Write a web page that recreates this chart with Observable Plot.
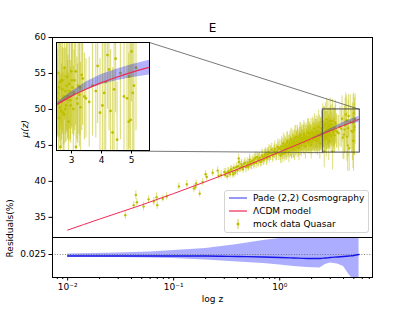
<!DOCTYPE html>
<html><head><meta charset="utf-8">
<script src="https://cdn.jsdelivr.net/npm/d3@7"></script>
<script src="https://cdn.jsdelivr.net/npm/@observablehq/plot@0.6"></script>
<style>
body{margin:0;background:#fff;font-family:"DejaVu Sans",sans-serif;}
#c{position:relative;width:414px;height:311px;overflow:hidden;background:#fff;}
#c > svg {position:absolute;}
.leg{position:absolute;left:224px;top:190px;width:143px;height:41px;border:1px solid #d4d4d4;border-radius:3px;background:rgba(255,255,255,0.85);font-size:9px;color:#000;}
.leg .row{position:absolute;left:0;height:12px;line-height:12px;}
.leg .row span{position:absolute;left:28px;white-space:nowrap;}
.leg .row svg{position:absolute;left:3px;top:0;}
</style></head><body><div id="c"></div>
<script>
// ---- data ----
const quasarZ = [0.035,0.042,0.044,0.045,0.052,0.058,0.065,0.069,0.070,0.079,0.086,0.112,0.133,0.155,0.160,0.163,0.176,0.188,0.200,0.205,0.233,0.260,0.265,0.280,0.300,
0.31,0.32,0.33,0.34,0.35,0.36,0.37,0.38,0.39,0.40,0.41,0.415,0.42,0.44,0.45,0.46,0.48,0.50,0.51,0.52,0.54,0.55,0.57,0.58,0.60,0.61,0.63,0.65,0.66,0.68,0.70,0.72,0.74,0.75,0.77,0.79,0.80,0.82,0.84,0.86,0.88,0.90,0.92,0.94,0.96,0.98,
1.00,1.02,1.04,1.06,1.08,1.10,1.12,1.14,1.16,1.18,1.20,1.22,1.24,1.26,1.28,1.30,1.32,1.34,1.36,1.38,1.40,1.42,1.44,1.46,1.48,1.50,1.52,1.54,1.56,1.58,1.60,1.62,1.65,1.68,1.70,1.72,1.75,1.78,1.80,1.83,1.86,1.88,1.90,1.93,1.96,1.98,2.00,2.03,2.06,2.09,2.12,2.15,2.18,2.21,2.24,2.27,2.30,2.33,2.36,2.39,2.42,2.45,2.48,
2.52,2.55,2.57,2.59,2.61,2.63,2.65,2.67,2.70,2.72,2.75,2.77,2.80,2.82,2.85,2.88,2.90,2.93,2.96,2.99,3.03,3.06,3.10,3.14,3.15,3.18,3.22,3.26,3.30,3.34,3.37,3.43,3.48,3.59,3.70,3.81,3.87,3.95,4.03,4.09,4.14,4.20,4.25,4.30,4.37,4.42,4.47,4.52,4.63,4.75,4.85,4.91,4.92,4.97,5.00,5.04,5.08,5.15,
0.305,0.325,0.345,0.365,0.385,0.405,0.425,0.435,0.455,0.47,0.49,0.505,0.525,0.535,0.56,0.575,0.59,0.62,0.64,0.67,0.69,0.71,0.73,0.76,0.78,0.81,0.85,0.89,0.93,0.97,
1.01,1.03,1.05,1.07,1.09,1.11,1.13,1.15,1.17,1.19,1.21,1.23,1.25,1.27,1.29,1.31,1.33,1.35,1.37,1.39,1.41,1.43,1.45,1.47,1.49,1.51,1.53,1.55,1.57,1.59,1.61,1.64,1.67,1.69,1.71,1.74,1.77,1.79,1.82,1.85,1.87,1.89,1.92,1.95,1.97,2.01,2.04,2.07,2.10,2.13,2.16,2.19,2.22,2.25,2.28,2.31,2.34,2.37,2.40,2.44,
2.53,2.58,2.62,2.66,2.69,2.74,2.79,2.84,2.87,2.92,2.97,3.01,3.08,3.20,3.28];
const quasarMu = [35.3,36.7,38.1,37.1,36.5,37.5,37.2,37.8,36.7,37.6,37.9,39.3,39.6,39.0,39.2,39.7,38.3,39.9,41.0,40.6,41.2,41.5,40.8,40.9,41.3,
41.2,40.7,41.4,41.0,41.7,41.3,41.9,41.2,42.0,41.5,43.2,42.7,41.8,42.1,41.7,42.4,42.0,42.6,42.2,43.0,42.3,42.8,42.5,43.1,42.6,43.4,42.9,43.3,42.7,43.6,43.0,43.5,43.9,43.2,43.7,44.1,43.4,43.9,44.4,43.6,44.0,44.5,43.8,44.2,44.8,43.9,
44.6,43.6,44.9,44.2,45.3,43.9,44.6,45.0,44.3,45.6,44.7,44.1,45.2,44.8,45.9,44.5,45.3,44.9,45.7,44.4,45.1,46.2,45.4,44.7,45.8,45.2,44.6,46.0,45.5,46.5,45.0,45.7,46.1,45.3,46.4,45.8,44.9,46.2,45.6,46.8,45.4,46.0,46.6,45.7,46.3,45.1,46.0,46.9,45.8,46.4,47.3,45.9,46.6,46.1,47.0,45.6,46.5,47.6,46.2,45.3,46.8,46.3,47.4,
46.9,48.3,45.8,47.5,46.4,44.2,47.9,46.7,47.9,46.1,46.0,48.6,47.3,46.5,48.1,47.0,45.6,47.7,46.8,48.4,47.5,46.3,47.9,48.4,44.2,46.9,47.6,47.1,46.4,48.2,48.0,47.0,46.9,46.7,47.6,47.3,48.7,46.1,46.5,47.2,47.8,49.3,48.5,46.2,45.0,47.4,49.1,44.6,48.3,47.0,46.9,45.6,48.1,45.7,49.5,47.2,47.6,48.6,
40.9,41.3,41.6,41.0,41.5,42.1,41.9,42.4,42.0,42.6,42.3,42.0,42.7,42.4,42.9,42.6,43.3,43.0,43.2,42.9,43.4,43.1,43.7,43.4,43.8,44.0,43.8,44.2,44.0,44.5,
44.0,44.5,43.8,44.8,44.4,45.0,44.2,44.7,45.3,44.5,45.0,44.6,45.5,44.9,44.4,45.6,45.1,44.7,45.4,46.0,44.9,45.5,45.2,46.1,45.6,44.9,45.4,46.3,45.1,45.8,46.0,45.5,45.9,46.6,45.3,46.0,46.3,45.6,45.9,46.1,46.7,45.5,46.2,45.9,46.7,45.5,46.2,46.6,45.9,46.1,46.8,45.7,46.5,46.0,46.7,46.2,45.8,46.9,46.4,46.6,
47.2,46.6,47.8,46.2,47.4,47.0,46.3,47.6,46.8,47.3,46.5,47.9,47.2,46.6,47.5];
const quasarErr = [0.6,0.5,0.6,0.5,0.6,0.5,0.6,0.6,0.6,0.5,0.5,0.5,0.5,0.6,0.5,0.5,0.5,0.5,0.5,0.5,0.5,0.5,0.5,0.6,0.5,
0.6,0.5,0.5,0.6,0.5,0.7,0.5,0.6,0.6,0.7,0.6,0.5,0.6,0.7,0.6,0.6,0.8,0.7,0.6,0.8,0.7,0.6,0.8,0.7,0.8,0.7,0.9,0.8,0.7,0.9,0.8,0.9,0.8,1.0,0.9,1.0,0.8,1.0,0.9,1.0,0.9,1.1,1.0,1.0,1.1,1.0,
1.2,1.1,1.3,1.2,1.4,1.2,1.3,1.2,1.4,1.3,1.2,1.5,1.3,1.4,1.5,1.3,1.4,1.6,1.4,1.5,1.3,1.6,1.5,1.4,1.6,1.5,1.7,1.5,1.4,1.7,1.6,1.5,1.8,1.6,1.7,1.5,1.8,1.6,1.7,1.9,1.6,1.8,1.7,1.9,1.6,2.0,1.8,2.0,1.7,1.9,2.1,1.8,2.0,1.9,2.2,2.0,1.8,2.3,2.0,2.2,2.1,1.9,2.4,
2.2,2.5,2.0,2.8,1.9,2.3,2.4,2.1,3.0,2.2,2.6,2.9,2.4,2.0,3.1,2.3,2.7,2.5,2.2,3.2,2.6,2.4,2.8,3.0,2.6,2.3,2.7,2.9,2.5,3.1,2.6,2.4,2.2,2.5,2.8,2.6,3.2,3.0,3.5,3.3,3.8,3.0,3.4,3.4,3.6,4.0,3.0,3.2,3.7,3.0,4.0,3.8,4.0,4.3,2.8,3.6,4.0,3.5,
0.5,0.6,0.5,0.6,0.6,0.7,0.6,0.7,0.6,0.7,0.7,0.6,0.8,0.7,0.8,0.7,0.8,0.9,0.8,0.8,0.9,0.8,0.9,1.0,0.9,1.0,0.9,1.0,1.1,1.0,
1.1,1.2,1.3,1.2,1.3,1.4,1.2,1.3,1.5,1.3,1.4,1.3,1.5,1.4,1.3,1.6,1.4,1.5,1.5,1.7,1.4,1.6,1.5,1.7,1.6,1.5,1.6,1.8,1.5,1.7,1.7,1.6,1.8,1.9,1.6,1.8,1.9,1.7,1.8,1.9,2.0,1.7,1.9,1.8,2.0,1.8,1.9,2.1,1.8,2.0,2.2,1.9,2.1,2.0,2.2,2.0,1.9,2.3,2.1,2.2,
2.4,1.8,2.6,2.0,2.3,2.7,1.9,2.5,2.2,2.8,2.1,2.6,2.4,2.2,2.7];

const lcdmZ  = [0.01,0.02,0.05,0.1,0.2,0.3,0.5,0.7,1.0,1.5,2.0,2.5,3.0,3.5,4.0,4.5,5.0,5.6];
const lcdmMu = [33.23,34.76,36.73,38.31,39.96,40.95,42.26,43.15,44.10,45.17,45.95,46.54,47.02,47.42,47.77,48.07,48.34,48.62];

const padeZ  = [2.0,2.5,3.0,3.5,4.0,4.5,5.0,5.6];
const padeLo = [45.92,46.49,46.97,47.37,47.67,47.87,48.04,48.19];
const padeHi = [46.00,46.64,47.27,47.82,48.22,48.52,48.76,49.02];

const resZ   = [0.01,0.03,0.06,0.1,0.2,0.4,0.7,1.0,1.35,1.8,2.4,2.7,3.0,3.5,4.0,4.5,5.0,5.6];
const resHi  = [0.02505,0.02515,0.02525,0.0254,0.0256,0.0260,0.0264,0.0266,0.02675,0.0269,0.0270,0.0270,0.0270,0.0270,0.0270,0.0270,0.0270,0.0270];
const resMid = [0.02485,0.02485,0.02485,0.02485,0.02485,0.0248,0.02475,0.0247,0.02465,0.0246,0.0246,0.02465,0.0247,0.02475,0.0248,0.02485,0.0249,0.0250];
const resLo  = [0.02475,0.0247,0.02465,0.0246,0.02445,0.02425,0.0241,0.02395,0.0238,0.0237,0.02365,0.0240,0.02415,0.02405,0.0238,0.0230,0.0224,0.0222];
const residualRef = 0.025;

const muTicks = [35,40,45,50,55,60];
const insetTicks = [3,4,5];
const xMajor = [0.01,0.1,1];
const xMajorLabels = ["10⁻²","10⁻¹","10⁰"];
const xMinor = [0.008,0.009,0.02,0.03,0.04,0.05,0.06,0.07,0.08,0.09,0.2,0.3,0.4,0.5,0.6,0.7,0.8,0.9,2,3,4,5,6,7];
const zoomX = [2.55, 5.69];
const zoomY = [44, 50];
const insetXDomain = [2.5, 5.6];

// ---- build tables ----
const n = Math.min(quasarZ.length, quasarMu.length, quasarErr.length);
const pts = quasarZ.slice(0, n).map((z,i)=>({z, mu: quasarMu[i], e: quasarErr[i]}));
const lcdm = lcdmZ.map((z,i)=>({z, mu: lcdmMu[i]}));
const pade = padeZ.map((z,i)=>({z, lo: padeLo[i], hi: padeHi[i]}));
const resid = resZ.map((z,i)=>({z, lo: resLo[i], hi: resHi[i], mid: resMid[i]}));

const xDomain = [0.0072, 7.5];
const muDomain = [32.2, 60];
const FONT = "DejaVu Sans";
const YEL = "#bfbf00", RED = "#ee2a55", BAND = "blue", BLINE = "#1515e8";

// layout (pixels)
const ML = 52, MR = 42, MT = 37, MB = 237;
const inset = {left:56, top:42, right:149, bottom:150};
const xs = d3.scaleLog().domain(xDomain).range([ML, 414-MR]);
const ys = d3.scaleLinear().domain(muDomain).range([MB, MT]);
const connectors = [
  {x1: xs.invert(inset.right), y1: ys.invert(inset.top), x2: zoomX[1], y2: zoomY[1]},
  {x1: xs.invert(inset.left), y1: ys.invert(inset.bottom), x2: zoomX[0], y2: zoomY[0]}
];

const c = document.getElementById("c");
const baseStyle = {fontFamily: FONT, fontSize: "9px", background: "transparent", overflow: "visible", color:"#000"};

// ---- main panel ----
const main = Plot.plot({
  width: 414, height: MB+1, marginTop: MT, marginBottom: 1, marginLeft: ML, marginRight: MR,
  style: baseStyle,
  x: {type: "log", domain: xDomain, axis: null},
  y: {domain: muDomain, ticks: muTicks, tickSize: 3.5, tickPadding: 3, label: null},
  marks: [
    Plot.ruleX(pts, {x: "z", y1: d=>d.mu-d.e, y2: d=>d.mu+d.e, stroke: YEL, strokeOpacity: 0.5, strokeWidth: 1, clip: true}),
    Plot.dot(pts, {x: "z", y: "mu", r: 1.2, fill: YEL, stroke: "none", clip: true}),
    Plot.areaY(pade, {x: "z", y1: "lo", y2: "hi", fill: BAND, fillOpacity: 0.3}),
    Plot.line(lcdm, {x: "z", y: "mu", stroke: RED, strokeWidth: 1, curve: "monotone-x"}),
    Plot.rect([{x1: zoomX[0], x2: zoomX[1], y1: zoomY[0], y2: zoomY[1]}], {x1: "x1", x2: "x2", y1: "y1", y2: "y2", fill: "none", stroke: "#444", strokeWidth: 1}),
    Plot.link(connectors, {x1: "x1", y1: "y1", x2: "x2", y2: "y2", stroke: "#555", strokeWidth: 0.8}),
    Plot.frame({stroke: "#000"}),
    Plot.text(["E"], {frameAnchor: "top", lineAnchor: "middle", dy: -9, fontSize: 12, fill: "#000"}),
    Plot.text(["μ(z)"], {frameAnchor: "left", rotate: -90, dx: -27, fontSize: 9, fontStyle: "italic", fill: "#000"})
  ]
});
main.style.left = "0px"; main.style.top = "0px";
c.appendChild(main);

// ---- residual panel ----
const res = Plot.plot({
  width: 414, height: 311-MB, marginTop: 0, marginBottom: 34, marginLeft: ML, marginRight: MR,
  style: baseStyle,
  x: {type: "log", domain: xDomain, label: null},
  y: {domain: [0.0227, 0.0267], label: null},
  marks: [
    Plot.areaY(resid, {x: "z", y1: "lo", y2: "hi", fill: BAND, fillOpacity: 0.32, clip: true}),
    Plot.ruleY([residualRef], {stroke: "#666", strokeWidth: 0.8, strokeDasharray: "1,1.6"}),
    Plot.line(resid, {x: "z", y: "mid", stroke: BLINE, strokeWidth: 1.3, curve: "monotone-x"}),
    Plot.axisX(xMinor, {tickSize: 2, tickFormat: () => ""}),
    Plot.axisX(xMajor, {tickSize: 3.5, tickPadding: 3, tickFormat: d => xMajorLabels[xMajor.indexOf(d)] ?? "", fontSize: 9}),
    Plot.axisY([residualRef], {tickSize: 3.5, tickPadding: 3, tickFormat: d3.format(".3f"), fontSize: 9}),
    Plot.frame({stroke: "#000"}),
    Plot.text(["log z"], {frameAnchor: "bottom", lineAnchor: "middle", dy: 22, fontSize: 9, fill: "#000"}),
    Plot.text(["Residuals(%)"], {frameAnchor: "left", rotate: -90, dx: -42, fontSize: 9, fill: "#000"})
  ]
});
res.style.left = "0px"; res.style.top = MB + "px";
c.appendChild(res);

// ---- inset ----
const insetPts = pts.filter(d => d.z > 2.3 && d.z < 5.8);
const iv = Plot.plot({
  width: (inset.right-inset.left)+20, height: (inset.bottom-inset.top)+32,
  marginLeft: 10, marginRight: 10, marginTop: 10, marginBottom: 22,
  style: baseStyle,
  x: {domain: insetXDomain, ticks: insetTicks, tickFormat: d => String(d), tickSize: 3.5, tickPadding: 3, label: null},
  y: {domain: zoomY, axis: null},
  marks: [
    Plot.frame({fill: "#fff", stroke: "none"}),
    Plot.ruleX(insetPts, {x: "z", y1: d=>d.mu-d.e, y2: d=>d.mu+d.e, stroke: YEL, strokeOpacity: 0.5, strokeWidth: 1.2, clip: true}),
    Plot.dot(insetPts, {x: "z", y: "mu", r: 1.4, fill: YEL, stroke: "none", clip: true}),
    Plot.areaY(pade, {x: "z", y1: "lo", y2: "hi", fill: BAND, fillOpacity: 0.3, clip: true}),
    Plot.line(lcdm, {x: "z", y: "mu", stroke: RED, strokeWidth: 1.2, curve: "monotone-x", clip: true}),
    Plot.frame({stroke: "#000"})
  ]
});
iv.style.left = (inset.left-10) + "px"; iv.style.top = (inset.top-10) + "px";
c.appendChild(iv);

// ---- legend ----
const leg = document.createElement("div");
leg.className = "leg";
leg.innerHTML = `
<div class="row" style="top:1px;width:143px"><svg width="22" height="12"><line x1="1" y1="6" x2="19" y2="6" stroke="${BLINE}" stroke-opacity="0.75" stroke-width="1.2"/></svg><span>Pade (2,2) Cosmography</span></div>
<div class="row" style="top:14px;width:143px"><svg width="22" height="12"><line x1="1" y1="6" x2="19" y2="6" stroke="${RED}" stroke-width="1.2"/></svg><span>ΛCDM model</span></div>
<div class="row" style="top:27px;width:143px"><svg width="22" height="12"><line x1="10" y1="1" x2="10" y2="11" stroke="${YEL}" stroke-opacity="0.6" stroke-width="1.2"/><circle cx="10" cy="6" r="1.5" fill="${YEL}"/></svg><span>mock data Quasar</span></div>`;
c.appendChild(leg);
</script>
</body></html>
